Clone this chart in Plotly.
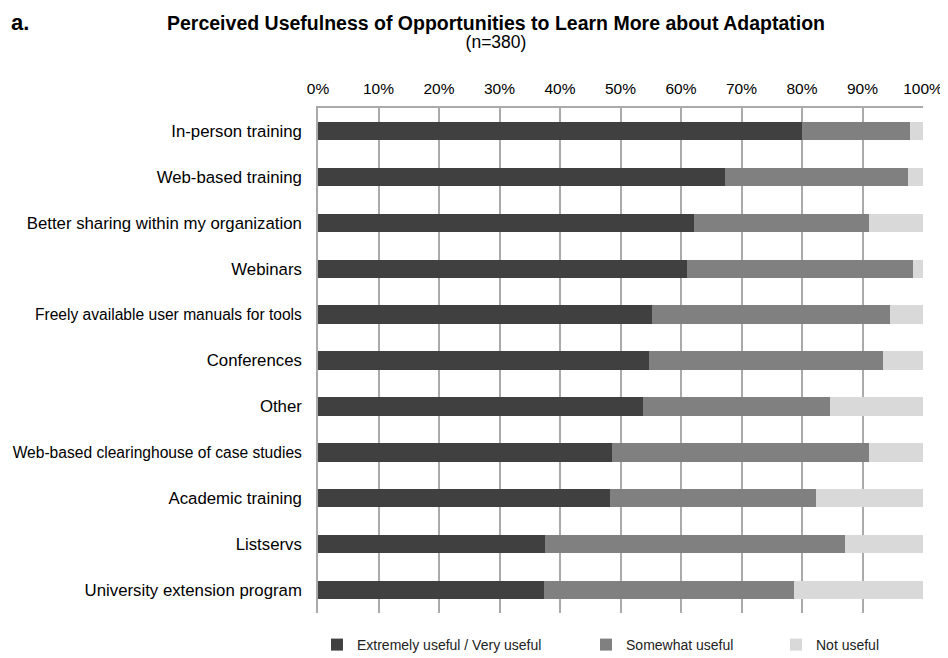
import plotly.graph_objects as go

# Datos (porcentajes por categoría)
opciones = ['In-person training', 'Web-based training', 'Better sharing within my organization',
            'Webinars', 'Freely available user manuals for tools', 'Conferences', 'Other',
            'Web-based clearinghouse of case studies', 'Academic training', 'Listservs',
            'University extension program']
muy_util = [80.0, 67.2, 62.1, 61.0, 55.2, 54.7, 53.8, 48.6, 48.3, 37.5, 37.4]
algo_util = [17.8, 30.3, 28.9, 37.3, 39.3, 38.7, 30.8, 42.5, 34.0, 49.6, 41.3]
no_util = [2.2, 2.5, 9.0, 1.7, 5.5, 6.6, 15.4, 8.9, 17.7, 12.9, 21.3]

series = [
    ('Extremely useful / Very useful', muy_util, '#404040', 'legend'),
    ('Somewhat useful', algo_util, '#808080', 'legend2'),
    ('Not useful', no_util, '#d9d9d9', 'legend3'),
]

fig = go.Figure()
for nombre, valores, color, leyenda in series:
    fig.add_trace(go.Bar(y=opciones, x=valores, name=nombre, orientation='h',
                         marker=dict(color=color, line=dict(width=0)),
                         legend=leyenda, showlegend=True))

# la etiqueta más larga va un poco más pequeña para que quepa entera
etiquetas = [o if len(o) < 39 else '<span style="font-size:15.6px">%s</span>' % o
             for o in opciones]

# la página tiene 8px de margen en el body: se compensa en los márgenes
leg = dict(orientation='h', yref='container', yanchor='middle', y=1 - 637 / 658,
           xanchor='left', font=dict(size=14, color='#222'), itemwidth=30,
           bgcolor='rgba(0,0,0,0)')

# título en dos líneas juntas (interlineado según la fuente base de 14px)
titulo = ('<span style="font-size:19.5px"><b>Perceived Usefulness of Opportunities to Learn '
          'More about Adaptation</b></span><br><span style="font-size:17.5px">(n=380)</span>')

fig.update_layout(
    barmode='stack', bargap=0.6,
    width=948, height=658,
    margin=dict(l=310, r=33, t=100, b=53),
    plot_bgcolor='white', paper_bgcolor='white',
    showlegend=True,
    font=dict(family='Liberation Sans, Arial, sans-serif', size=17, color='black'),
    title=dict(text=titulo, x=488 / 948, xref='container', xanchor='center',
               y=1 - 22 / 658, yref='container', yanchor='middle',
               font=dict(size=14, color='black')),
    legend=dict(leg, x=-0.0017),
    legend2=dict(leg, x=0.443),
    legend3=dict(leg, x=0.757),
    annotations=[
        dict(text='<b>a.</b>', x=(1 - 310) / 605, y=1 + 100 / 505,
             xref='paper', yref='paper', xanchor='left', yanchor='top',
             showarrow=False, font=dict(size=22)),
    ],
)

fig.update_xaxes(range=[0, 100], dtick=10, ticksuffix='%', side='top',
                 showgrid=True, gridcolor='#aaaaaa', gridwidth=1.5,
                 showline=True, linecolor='#aaaaaa', linewidth=1.5,
                 tickfont=dict(size=15.5), zeroline=False, ticks='',
                 ticklabelstandoff=6, automargin=False)
fig.update_yaxes(categoryorder='array', categoryarray=opciones, autorange='reversed',
                 tickvals=opciones, ticktext=etiquetas,
                 showline=True, linecolor='#aaaaaa', linewidth=1.5,
                 tickfont=dict(size=16.8), ticks='', ticklabelstandoff=11, automargin=False)

fig.write_html("out.html")
